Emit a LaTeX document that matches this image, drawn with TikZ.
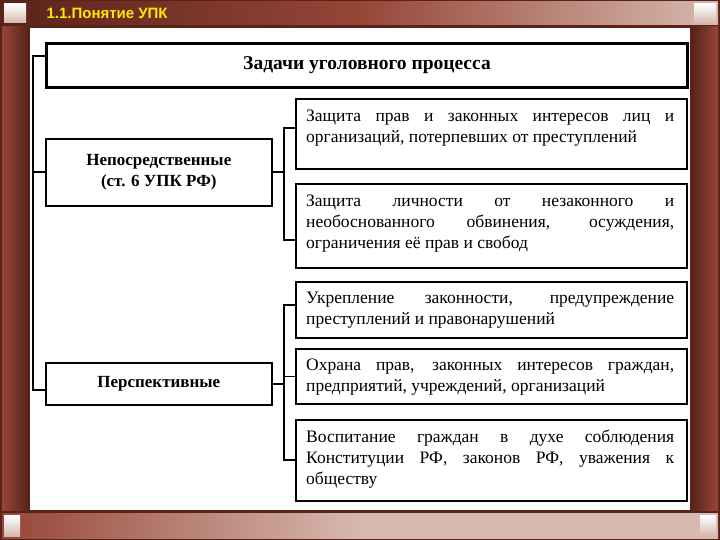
\documentclass[tikz,border=0pt]{standalone}
\usepackage{fontspec}
\setmainfont{Liberation Serif}
\newfontfamily\hdr{Liberation Sans}
\definecolor{dkb}{RGB}{90,35,25}
\definecolor{mdb}{RGB}{150,70,55}
\definecolor{ltb}{RGB}{215,185,175}
\begin{document}
\begin{tikzpicture}[x=1pt,y=-1pt,
  frm/.style={draw,line width=1.6pt,anchor=north west,minimum width=391pt},
  ttx/.style={text width=368pt,align=justify,inner sep=0pt,anchor=north west,font=\fontsize{17.5}{21}\selectfont},
  cbox/.style={draw,line width=1.6pt,align=center,font=\bfseries\fontsize{17}{21}\selectfont},
  bus/.style={line width=1.6pt}]
\useasboundingbox (0,0) rectangle (720,540);
% frame
\fill[dkb] (0,0) rectangle (720,540);
\shade[left color=dkb,right color=ltb,middle color=mdb] (2,2) rectangle (718,25);
\shade[left color=mdb,right color=ltb,middle color=ltb] (2,513) rectangle (718,538);
\shade[left color=mdb,right color=dkb] (2,27) rectangle (28,510);
\shade[left color=dkb,right color=mdb] (692,27) rectangle (718,510);
\shade[top color=white,bottom color=ltb] (4,4) rectangle (26,23);
\shade[top color=white,bottom color=ltb] (694,4) rectangle (716,23);
\shade[top color=white,bottom color=ltb] (4,515) rectangle (20,536);
\shade[top color=white,bottom color=ltb] (700,515) rectangle (716,536);
\fill[white] (30,28) rectangle (690,510);
\node[anchor=west,text=yellow!90!orange,font=\hdr\bfseries\fontsize{15}{17}\selectfont] (hd) at (43,13) {1.1.Понятие УПК};
% boxes
\node[draw,line width=3pt,minimum width=641pt,minimum height=44pt,anchor=north west,font=\bfseries\fontsize{19.5}{22}\selectfont] (t) at (45,42) {Задачи уголовного процесса};
\node[cbox,minimum width=226pt,minimum height=67pt,anchor=north west] (a) at (45,138) {Непосредственные\\(ст. 6 УПК РФ)};
\node[cbox,minimum width=226pt,minimum height=42pt,anchor=north west] (b) at (45,362) {Перспективные};
\node[frm,minimum height=70pt] (r1) at (295,98) {};
\node[frm,minimum height=84pt] (r2) at (295,183) {};
\node[frm,minimum height=56pt] (r3) at (295,281) {};
\node[frm,minimum height=55pt] (r4) at (295,348) {};
\node[frm,minimum height=81pt] (r5) at (295,419) {};
\node[ttx] (x1) at (306,110) {Защита прав и законных интересов лиц и организаций, потерпевших от преступлений};
\node[ttx] (x2) at (306,195) {Защита личности от незаконного и необоснованного обвинения, осуждения, ограничения её прав и свобод};
\node[ttx] (x3) at (306,292) {Укрепление законности, предупреждение преступлений и правонарушений};
\node[ttx] (x4) at (306,359) {Охрана прав, законных интересов граждан, предприятий, учреждений, организаций};
\node[ttx] (x5) at (306,430) {Воспитание граждан в духе соблюдения Конституции РФ, законов РФ, уважения к обществу};
% connectors
\coordinate (l1) at (33,56);
\coordinate (l2) at (33,390);
\draw[bus] (t.west|-l1) -- (l1) -- (l2) -- (b.west|-l2);
\draw[bus] (l1|-a.west) -- (a.west);
\coordinate (m1) at (284,128);
\coordinate (m2) at (284,240);
\draw[bus] (r1.west|-m1) -- (m1) -- (m2) -- (r2.west|-m2);
\draw[bus] (a.east) -- (a.east-|m1);
\coordinate (n1) at (284,305);
\coordinate (n2) at (284,460);
\draw[bus] (r3.west|-n1) -- (n1) -- (n2) -- (r5.west|-n2);
\draw[bus] (b.east) -- (b.east-|n1);
\draw[bus] (n1|-r4.west) -- (r4.west);
\end{tikzpicture}
\end{document}
